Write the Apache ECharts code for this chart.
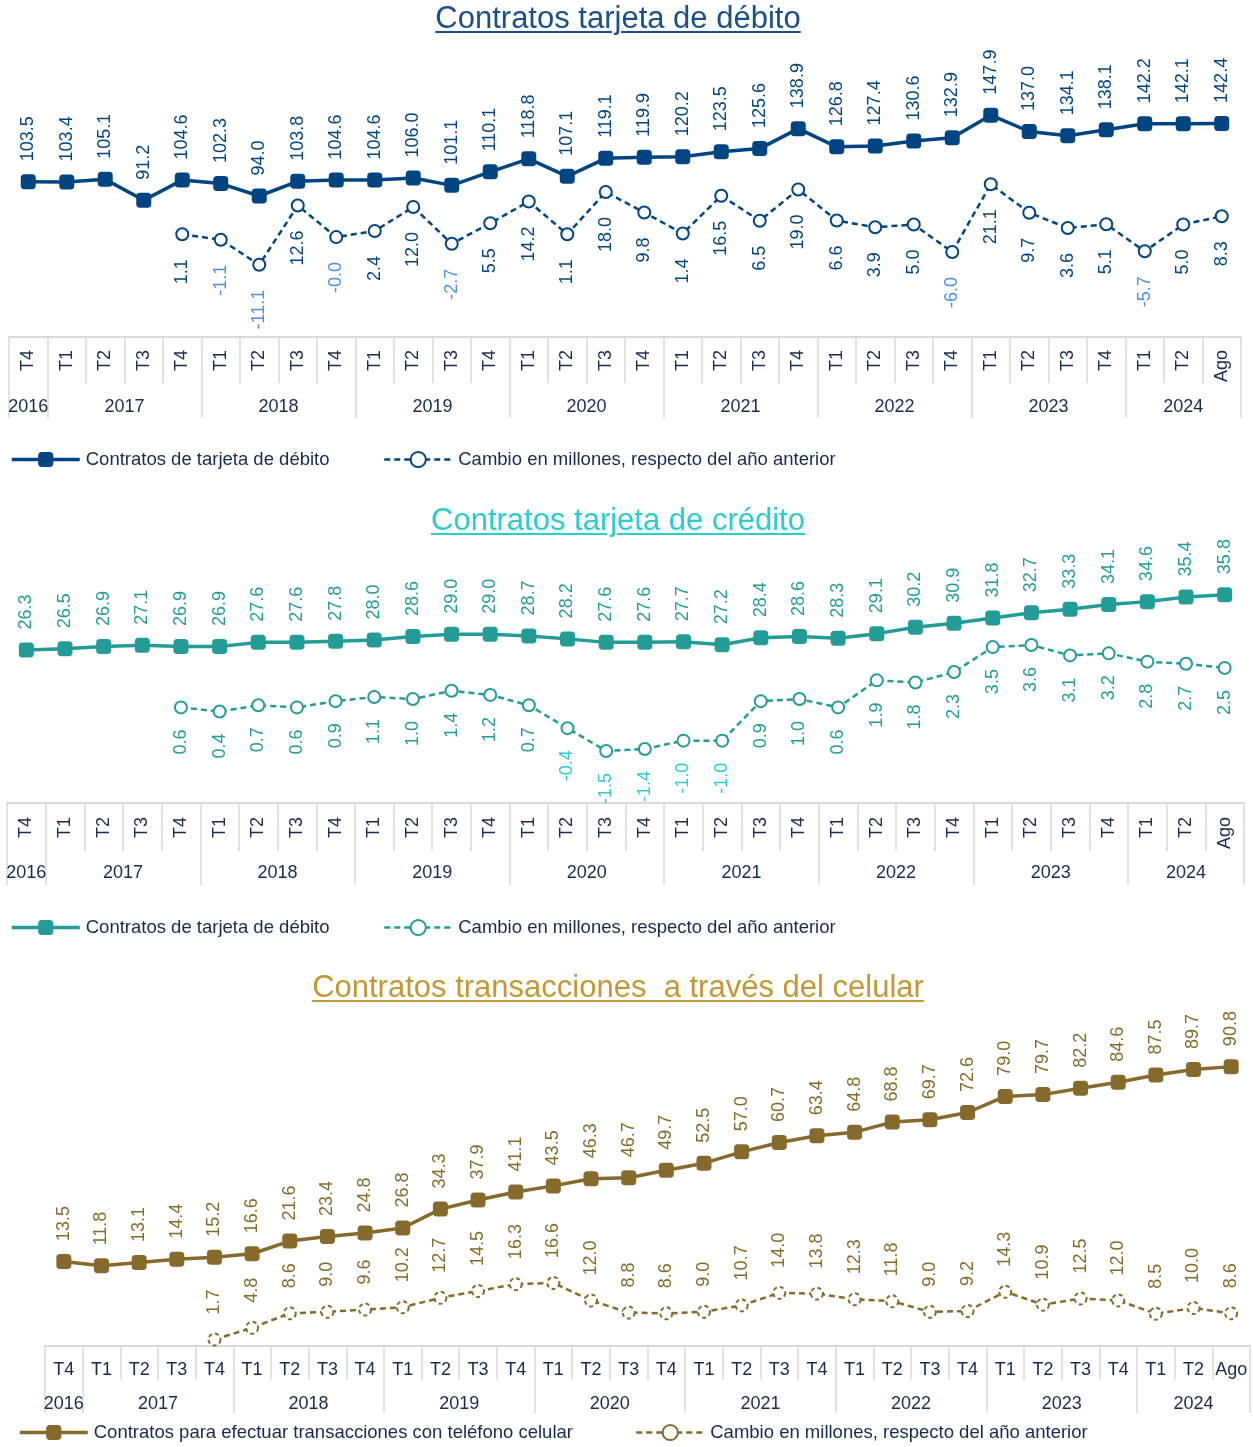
<!DOCTYPE html>
<html>
<head>
<meta charset="utf-8">
<script src="https://cdn.jsdelivr.net/npm/echarts@6.0.0/dist/echarts.min.js"></script>
<style>
  body { margin: 0; background: #fff; }
  .wrap { position: relative; width: 1253px; height: 1447px; }
  .chart { position: absolute; left: 0; width: 1253px; }
  .title {
    position: absolute; left: 0; width: 1236px; text-align: center;
    font-family: 'Liberation Sans', Arial, sans-serif; font-size: 31px; line-height: 36px;
    white-space: pre; z-index: 2;
  }
  .title span { text-decoration: underline; text-decoration-thickness: 2px; text-underline-offset: 3px; }
</style>
</head>
<body>
<div class="wrap">
  <div class="chart" id="c1" style="top:0;height:480px"></div>
  <div class="chart" id="c2" style="top:480px;height:480px"></div>
  <div class="chart" id="c3" style="top:960px;height:487px"></div>
  <div class="title" style="top:0;color:#1B4F8A"><span>Contratos tarjeta de débito</span></div>
  <div class="title" style="top:502px;color:#2DCCCD"><span>Contratos tarjeta de crédito</span></div>
  <div class="title" style="top:969px;color:#C49735"><span>Contratos transacciones  a través del celular</span></div>
</div>
<script>
// categorias (trimestres) y años
var quarters = ['T4', 'T1', 'T2', 'T3', 'T4', 'T1', 'T2', 'T3', 'T4', 'T1', 'T2', 'T3', 'T4',
  'T1', 'T2', 'T3', 'T4', 'T1', 'T2', 'T3', 'T4', 'T1', 'T2', 'T3', 'T4',
  'T1', 'T2', 'T3', 'T4', 'T1', 'T2', 'Ago']
var years = ['2016', '2017', '2018', '2019', '2020', '2021', '2022', '2023', '2024']
var yearSpan = [1, 4, 4, 4, 4, 4, 4, 4, 3]

// tarjeta de débito
var debito = [103.5, 103.4, 105.1, 91.2, 104.6, 102.3, 94.0, 103.8, 104.6, 104.6, 106.0, 101.1, 110.1,
  118.8, 107.1, 119.1, 119.9, 120.2, 123.5, 125.6, 138.9, 126.8, 127.4, 130.6, 132.9,
  147.9, 137.0, 134.1, 138.1, 142.2, 142.1, 142.4]
var debitoCambio = [null, null, null, null, 1.1, -1.1, -11.1, 12.6, -0.04, 2.4, 12.0, -2.7, 5.5,
  14.2, 1.1, 18.0, 9.8, 1.4, 16.5, 6.5, 19.0, 6.6, 3.9, 5.0, -6.0,
  21.1, 9.7, 3.6, 5.1, -5.7, 5.0, 8.3]

// tarjeta de crédito
var credito = [26.3, 26.5, 26.9, 27.1, 26.9, 26.9, 27.6, 27.6, 27.8, 28.0, 28.6, 29.0, 29.0,
  28.7, 28.2, 27.6, 27.6, 27.7, 27.2, 28.4, 28.6, 28.3, 29.1, 30.2, 30.9,
  31.8, 32.7, 33.3, 34.1, 34.6, 35.4, 35.8]
var creditoCambio = [null, null, null, null, 0.6, 0.4, 0.7, 0.6, 0.9, 1.1, 1.0, 1.4, 1.2,
  0.7, -0.4, -1.5, -1.4, -1.0, -1.0, 0.9, 1.0, 0.6, 1.9, 1.8, 2.3,
  3.5, 3.6, 3.1, 3.2, 2.8, 2.7, 2.5]

// transacciones con celular
var celular = [13.5, 11.8, 13.1, 14.4, 15.2, 16.6, 21.6, 23.4, 24.8, 26.8, 34.3, 37.9, 41.1,
  43.5, 46.3, 46.7, 49.7, 52.5, 57.0, 60.7, 63.4, 64.8, 68.8, 69.7, 72.6,
  79.0, 79.7, 82.2, 84.6, 87.5, 89.7, 90.8]
var celularCambio = [null, null, null, null, 1.7, 4.8, 8.6, 9.0, 9.6, 10.2, 12.7, 14.5, 16.3,
  16.6, 12.0, 8.8, 8.6, 9.0, 10.7, 14.0, 13.8, 12.3, 11.8, 9.0, 9.2,
  14.3, 10.9, 12.5, 12.0, 8.5, 10.0, 8.6]

var FONT = "'Liberation Sans', Arial, sans-serif"
var navy = '#172A50'
var gray = '#D9D9D9'

// limites y centros de cada año sobre el eje de trimestres
var bounds = [0]
var mids = []
yearSpan.forEach(function (n) {
  var s = bounds[bounds.length - 1]
  mids.push(s + n / 2)
  bounds.push(s + n)
})

function fmt(p) {
  return p.value.toFixed(1)
}

function buildOption(c) {
  var chgData = c.chg.map(function (v) {
    if (v === null) return '-'
    return v < 0 ? { value: v, label: { color: c.neg } } : v
  })
  var legendBase = {
    top: c.legendTop, padding: 0, itemWidth: 68, itemHeight: 19,
    textStyle: { fontSize: 18.5, color: navy, padding: [0, 0, 0, 1] }
  }
  return {
    animation: false,
    textStyle: { fontFamily: FONT },
    grid: { left: c.grid[0], top: c.grid[1], width: c.grid[2], height: c.grid[3] },
    legend: [
      Object.assign({ left: c.legendLeft[0], data: [c.names[0]], lineStyle: { width: 3.5 } }, legendBase),
      Object.assign({ left: c.legendLeft[1], data: [c.names[1]], lineStyle: { width: 2.5 } }, legendBase)
    ],
    xAxis: [
      {
        type: 'category', data: quarters, position: 'bottom',
        axisLine: { onZero: false, lineStyle: { color: gray, width: 2 } },
        axisTick: { show: true, interval: 0, length: c.qTick, lineStyle: { color: gray, width: 1.5 } },
        axisLabel: { interval: 0, rotate: c.rot, margin: c.qMargin, fontSize: 18, color: navy },
        splitLine: { show: false }
      },
      {
        type: 'value', min: 0, max: quarters.length, position: 'bottom',
        axisLine: { show: false, onZero: false },
        splitLine: { show: false },
        axisTick: { show: true, customValues: bounds, length: c.yTick, lineStyle: { color: gray, width: 1.5 } },
        axisLabel: {
          customValues: mids, margin: c.yMargin, fontSize: 18, color: navy,
          formatter: function (v) { return years[mids.indexOf(v)] }
        }
      }
    ],
    yAxis: [
      { type: 'value', show: false, min: c.yMain[0], max: c.yMain[1] },
      { type: 'value', show: false, min: c.yChg[0], max: c.yChg[1] }
    ],
    series: [
      {
        name: c.names[0], type: 'line', data: c.main,
        symbol: 'roundRect', symbolSize: 15,
        lineStyle: { color: c.color, width: 3.5 },
        itemStyle: { color: c.color },
        label: {
          show: true, position: 'top', distance: 13, rotate: 90, align: 'left', verticalAlign: 'middle',
          fontSize: 18, color: c.color, formatter: fmt
        }
      },
      {
        name: c.names[1], type: 'line', yAxisIndex: 1, data: chgData,
        symbol: 'emptyCircle', symbolSize: 12,
        lineStyle: { color: c.color, width: 2.5, type: [6, 4] },
        itemStyle: { color: c.color, borderColor: c.color, borderWidth: 3, borderType: c.chgBorder },
        label: {
          show: true, position: c.chgPos, distance: c.chgDist, rotate: 90,
          align: c.chgPos === 'top' ? 'left' : 'right', verticalAlign: 'middle',
          fontSize: 18, color: c.color, formatter: fmt
        }
      }
    ]
  }
}

var charts = [
  {
    el: 'c1', main: debito, chg: debitoCambio, color: '#004481', neg: '#4C8FEA',
    names: ['Contratos de tarjeta de débito', 'Cambio en millones, respecto del año anterior'],
    grid: [9, 37, 1232, 300], yMain: [0, 200], yChg: [-40, 80],
    rot: 90, qTick: 46, yTick: 81, qMargin: 13, yMargin: 61,
    chgPos: 'bottom', chgDist: 18, chgBorder: 'solid',
    legendTop: 450, legendLeft: [10, 383]
  },
  {
    el: 'c2', main: credito, chg: creditoCambio, color: '#239B97', neg: '#2DCCCD',
    names: ['Contratos de tarjeta de débito', 'Cambio en millones, respecto del año anterior'],
    grid: [7, 32, 1237, 291], yMain: [0, 50], yChg: [-4, 10],
    rot: 90, qTick: 48, yTick: 82, qMargin: 14, yMargin: 61,
    chgPos: 'bottom', chgDist: 15, chgBorder: 'solid',
    legendTop: 438, legendLeft: [10, 383]
  },
  {
    el: 'c3', main: celular, chg: celularCambio, color: '#866A2B', neg: '#866A2B',
    names: ['Contratos para efectuar transacciones con teléfono celular', 'Cambio en millones, respecto del año anterior'],
    grid: [45, 33, 1205, 353], yMain: [-20, 120], yChg: [0, 93],
    rot: 0, qTick: 34, yTick: 67, qMargin: 15, yMargin: 49,
    chgPos: 'top', chgDist: 18, chgBorder: [4, 3],
    legendTop: 463, legendLeft: [18, 635]
  }
]

charts.forEach(function (c) {
  var chart = echarts.init(document.getElementById(c.el))
  chart.setOption(buildOption(c))
})
</script>
</body>
</html>
